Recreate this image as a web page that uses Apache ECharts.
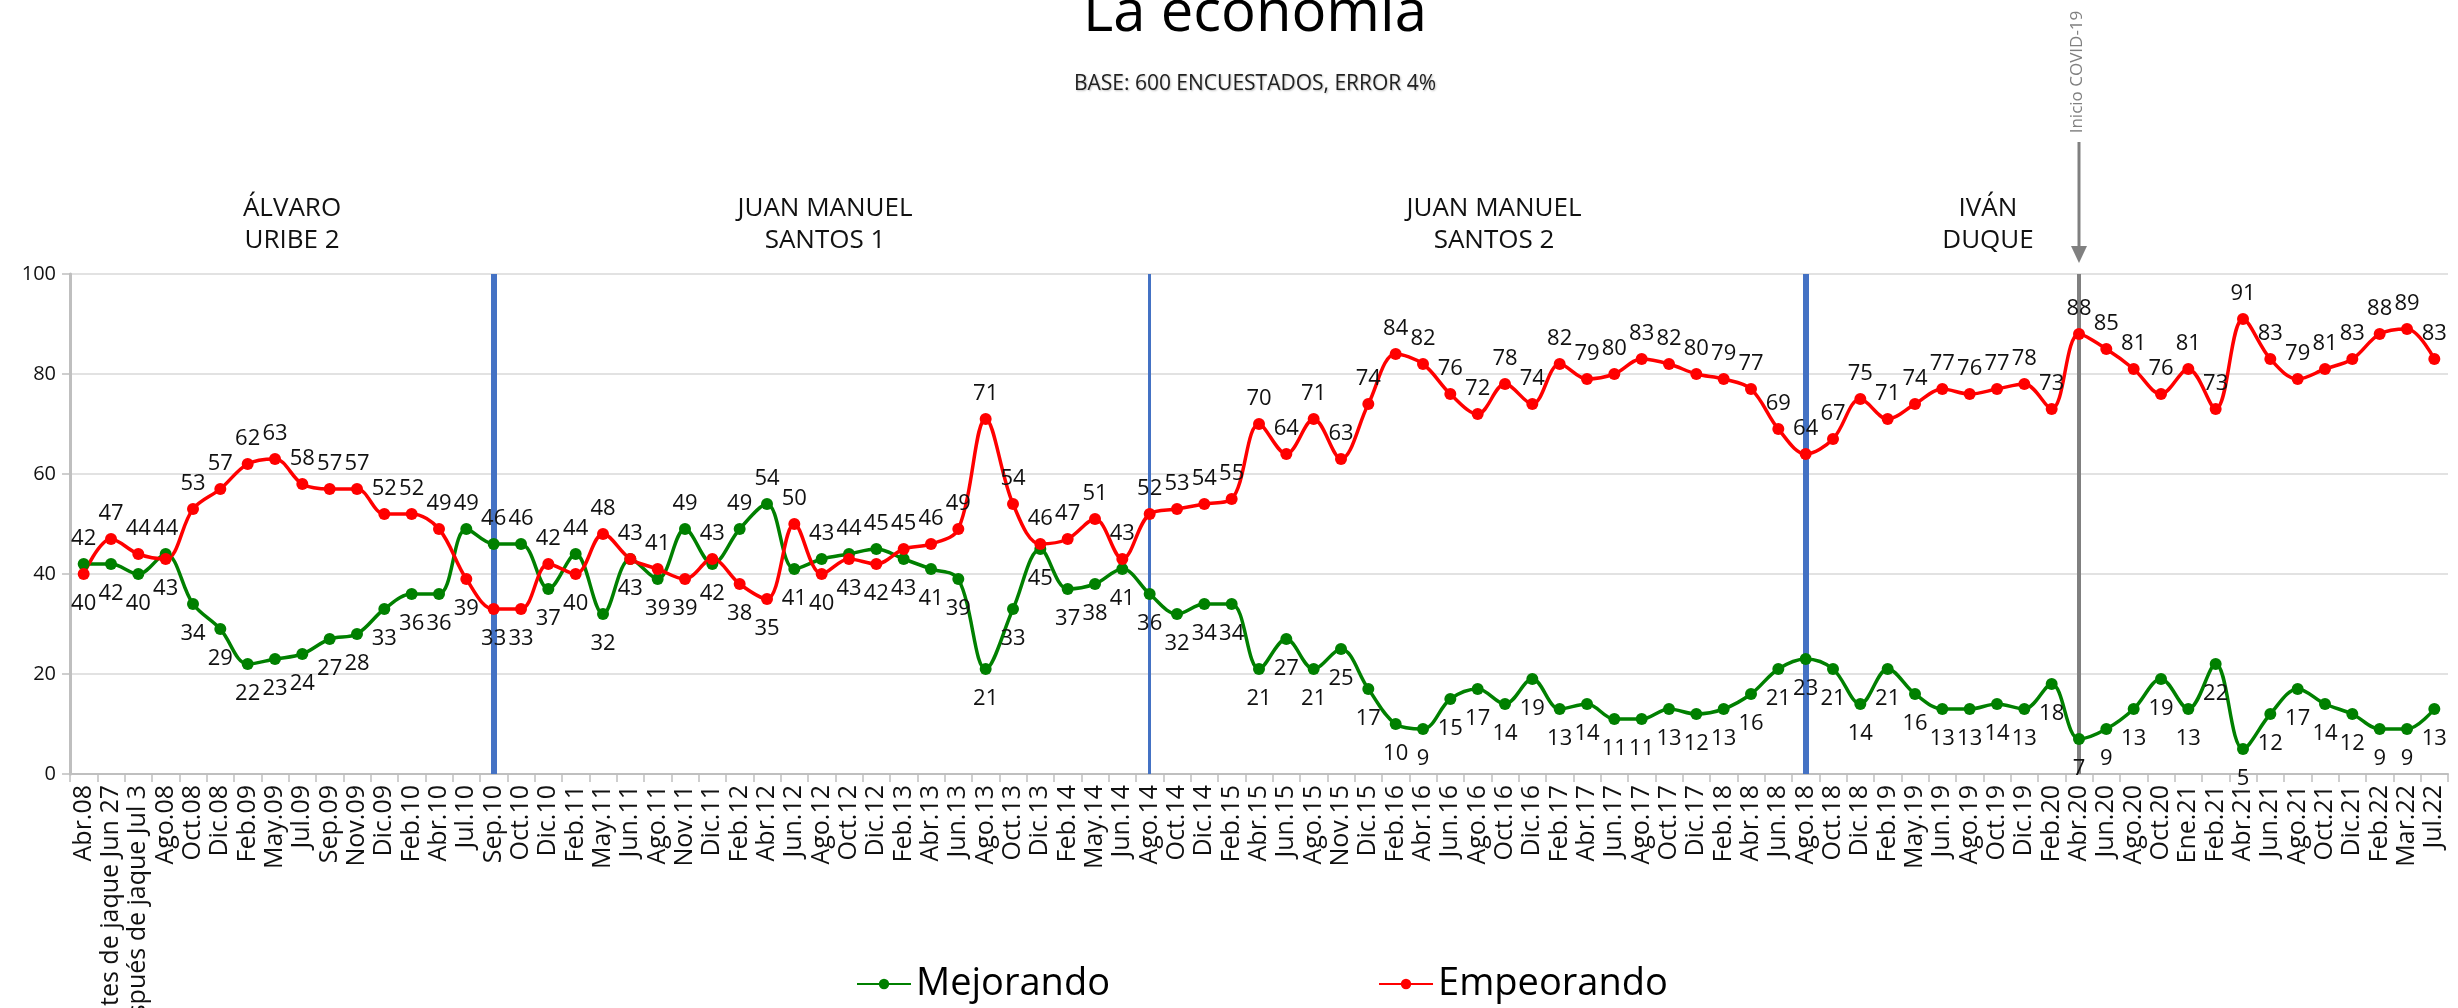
<!DOCTYPE html>
<html>
<head>
<meta charset="utf-8">
<title>La economía</title>
<script src="https://cdn.jsdelivr.net/npm/echarts@6/dist/echarts.min.js"></script>
<style>
  html, body { margin: 0; padding: 0; background: #fff; }
  #chart { width: 2458px; height: 1008px; }
</style>
</head>
<body>
<div id="chart"></div>
<script>
// fechas de medición
var categories = ['Abr.08', 'antes de jaque Jun 27', 'después de jaque Jul 3', 'Ago.08', 'Oct.08', 'Dic.08',
  'Feb.09', 'May.09', 'Jul.09', 'Sep.09', 'Nov.09', 'Dic.09', 'Feb.10', 'Abr.10', 'Jul.10', 'Sep.10',
  'Oct.10', 'Dic.10', 'Feb.11', 'May.11', 'Jun.11', 'Ago.11', 'Nov.11', 'Dic.11', 'Feb.12', 'Abr.12',
  'Jun.12', 'Ago.12', 'Oct.12', 'Dic.12', 'Feb.13', 'Abr.13', 'Jun.13', 'Ago.13', 'Oct.13', 'Dic.13',
  'Feb.14', 'May.14', 'Jun.14', 'Ago.14', 'Oct.14', 'Dic.14', 'Feb.15', 'Abr.15', 'Jun.15', 'Ago.15',
  'Nov.15', 'Dic.15', 'Feb.16', 'Abr.16', 'Jun.16', 'Ago.16', 'Oct.16', 'Dic.16', 'Feb.17', 'Abr.17',
  'Jun.17', 'Ago.17', 'Oct.17', 'Dic.17', 'Feb.18', 'Abr.18', 'Jun.18', 'Ago.18', 'Oct.18', 'Dic.18',
  'Feb.19', 'May.19', 'Jun.19', 'Ago.19', 'Oct.19', 'Dic.19', 'Feb.20', 'Abr.20', 'Jun.20', 'Ago.20',
  'Oct.20', 'Ene.21', 'Feb.21', 'Abr.21', 'Jun.21', 'Ago.21', 'Oct.21', 'Dic.21', 'Feb.22', 'Mar.22', 'Jul.22'];

var mejorando = [42, 42, 40, 44, 34, 29, 22, 23, 24, 27, 28, 33, 36, 36, 49, 46, 46, 37, 44, 32,
  43, 39, 49, 42, 49, 54, 41, 43, 44, 45, 43, 41, 39, 21, 33, 45, 37, 38, 41, 36,
  32, 34, 34, 21, 27, 21, 25, 17, 10, 9, 15, 17, 14, 19, 13, 14, 11, 11, 13, 12,
  13, 16, 21, 23, 21, 14, 21, 16, 13, 13, 14, 13, 18, 7, 9, 13, 19, 13, 22, 5,
  12, 17, 14, 12, 9, 9, 13];

var empeorando = [40, 47, 44, 43, 53, 57, 62, 63, 58, 57, 57, 52, 52, 49, 39, 33, 33, 42, 40, 48,
  43, 41, 39, 43, 38, 35, 50, 40, 43, 42, 45, 46, 49, 71, 54, 46, 47, 51, 43, 52,
  53, 54, 55, 70, 64, 71, 63, 74, 84, 82, 76, 72, 78, 74, 82, 79, 80, 83, 82, 80,
  79, 77, 69, 64, 67, 75, 71, 74, 77, 76, 77, 78, 73, 88, 85, 81, 76, 81, 73, 91,
  83, 79, 81, 83, 88, 89, 83];

var presidentes = ['ÁLVARO\nURIBE 2', 'JUAN MANUEL\nSANTOS 1', 'JUAN MANUEL\nSANTOS 2', 'IVÁN\nDUQUE'];
var presidentesX = [292, 825, 1494, 1988];

// cambios de gobierno y la marca del covid
var cortes = ['Sep.10', 'Ago.14', 'Ago.18'];
var cortesAncho = [6, 3, 6];
var inicioCovid = 'Abr.20';

var fuente = '"Open Sans", "Noto Sans", sans-serif';

// la serie de arriba lleva la etiqueta encima, la de abajo debajo
function conEtiquetas(serie, otra, ganaEmpate) {
  return serie.map(function (v, i) {
    var arriba = v > otra[i] || (v === otra[i] && ganaEmpate);
    return {
      value: v,
      label: { position: arriba ? 'top' : 'bottom', distance: arriba ? 8 : 13 }
    };
  });
}

var myChart = echarts.init(document.getElementById('chart'));

var option = {
  animation: false,
  textStyle: { fontFamily: fuente },
  grid: { left: 70, right: 10, top: 274, bottom: 234, outerBoundsMode: 'none' },
  legend: {
    data: ['Mejorando', 'Empeorando'],
    left: 851,
    top: 960,
    itemWidth: 54,
    itemHeight: 13,
    itemGap: 268,
    textStyle: { fontSize: 38, color: '#000', fontFamily: fuente }
  },
  xAxis: {
    type: 'category',
    data: categories,
    boundaryGap: true,
    axisLine: { lineStyle: { color: '#bfbfbf', width: 2 } },
    axisTick: { show: true, length: 8, lineStyle: { color: '#bfbfbf', width: 1.5 } },
    axisLabel: { interval: 0, rotate: 90, fontSize: 25, color: '#111', margin: 11, fontFamily: fuente },
    splitLine: { show: false }
  },
  yAxis: {
    type: 'value',
    min: 0,
    max: 100,
    interval: 20,
    axisLine: { show: true, lineStyle: { color: '#bfbfbf', width: 3 } },
    axisTick: { show: true, length: 8, lineStyle: { color: '#bfbfbf', width: 1.5 } },
    splitLine: { lineStyle: { color: '#d9d9d9', width: 1.5 } },
    axisLabel: { fontSize: 20, color: '#111', margin: 14, fontFamily: fuente }
  },
  series: [
    {
      name: 'Mejorando',
      type: 'line',
      data: conEtiquetas(mejorando, empeorando, true),
      smooth: 0.35,
      symbol: 'circle',
      symbolSize: 12,
      z: 3,
      lineStyle: { width: 3.5, color: '#008000' },
      itemStyle: { color: '#008000' },
      label: { show: true, fontSize: 22, color: '#111', fontFamily: fuente },
      markLine: {
        silent: true,
        symbol: ['none', 'none'],
        label: { show: false },
        z: 2,
        data: cortes.map(function (c, i) {
          return { xAxis: c, lineStyle: { type: 'solid', width: cortesAncho[i], color: '#4472C4' } };
        }).concat([{ xAxis: inicioCovid, lineStyle: { type: 'solid', width: 4, color: '#808080' } }])
      }
    },
    {
      name: 'Empeorando',
      type: 'line',
      data: conEtiquetas(empeorando, mejorando, false),
      smooth: 0.35,
      symbol: 'circle',
      symbolSize: 12,
      z: 3,
      lineStyle: { width: 3.5, color: '#ff0000' },
      itemStyle: { color: '#ff0000' },
      label: { show: true, fontSize: 22, color: '#111', fontFamily: fuente }
    }
  ]
};

myChart.setOption(option);

// textos y flecha de covid, la x sale del eje
var xc = myChart.convertToPixel({ xAxisIndex: 0 }, inicioCovid);
var topGrid = myChart.convertToPixel({ yAxisIndex: 0 }, 100);

var graficos = [
  {
    type: 'text', x: 1255, y: 14,
    style: { text: 'La economía', font: '58px ' + fuente, fill: '#000', align: 'center', verticalAlign: 'middle' }
  },
  {
    type: 'text', x: 1255, y: 84,
    style: {
      text: 'BASE: 600 ENCUESTADOS, ERROR 4%', font: '21px ' + fuente, fill: '#222',
      align: 'center', verticalAlign: 'middle',
      textShadowColor: 'rgba(0,0,0,0.25)', textShadowBlur: 2, textShadowOffsetX: 1, textShadowOffsetY: 1
    }
  },
  {
    type: 'line',
    shape: { x1: xc, y1: 142, x2: xc, y2: topGrid - 20 },
    style: { stroke: '#808080', lineWidth: 3 }
  },
  {
    type: 'polygon',
    shape: { points: [[xc - 8, topGrid - 28], [xc + 8, topGrid - 28], [xc, topGrid - 11]] },
    style: { fill: '#808080' }
  },
  {
    type: 'text', x: xc - 2, y: 72, rotation: Math.PI / 2,
    style: { text: 'Inicio COVID-19', font: '17px ' + fuente, fill: '#808080', align: 'center', verticalAlign: 'middle' }
  }
];

presidentes.forEach(function (p, i) {
  graficos.push({
    type: 'text', x: presidentesX[i], y: 225,
    style: { text: p, font: '26px ' + fuente, lineHeight: 32, fill: '#111', align: 'center', verticalAlign: 'middle' }
  });
});

myChart.setOption({ graphic: graficos });
</script>
</body>
</html>
